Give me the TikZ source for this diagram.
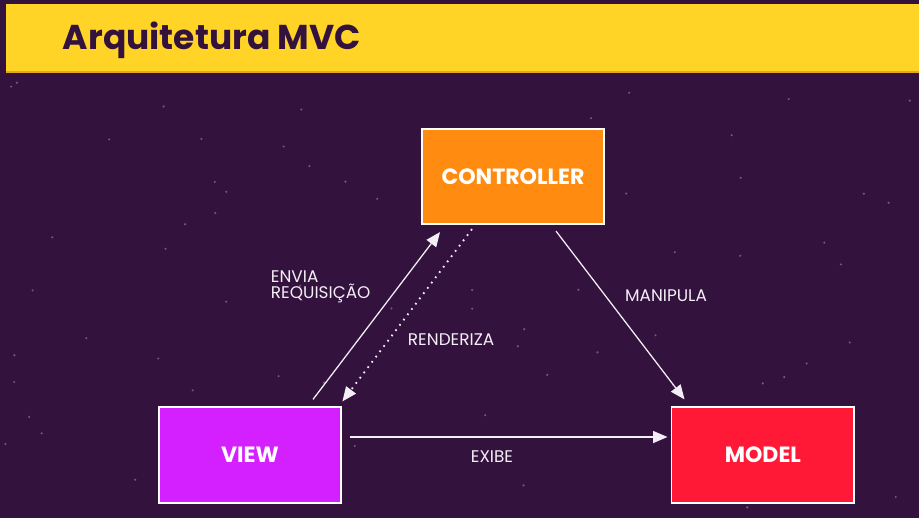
\documentclass[tikz,border=0pt]{standalone}
\usepackage{fontspec}
\setmainfont{Poppins}
\usepackage{tikz}
\usetikzlibrary{arrows.meta, positioning, calc}
\definecolor{night}{HTML}{33123D}
\definecolor{banner}{HTML}{FFD426}
\definecolor{bannerline}{HTML}{E8A81E}
\definecolor{ctrlfill}{HTML}{FF8C10}
\definecolor{viewfill}{HTML}{D420FF}
\definecolor{modelfill}{HTML}{FF1937}
\definecolor{inkwhite}{HTML}{F4EEF6}

\begin{document}
\begin{tikzpicture}[
  x=0.025cm, y=-0.025cm,
  part/.style={draw=white, line width=1.4pt, minimum width=4.57cm,
               minimum height=2.38cm, font=\fontsize{15.7}{18}\selectfont\bfseries,
               text=white, inner sep=0pt},
  link/.style={draw=inkwhite, line width=0.9pt,
               -{Triangle[length=0.36cm, width=0.3cm]}},
  tag/.style={font=\fontsize{12}{14}\selectfont, text=inkwhite, align=left},
]
  % Background and title banner
  \fill[night] (0,0) rectangle (919,518);
  \useasboundingbox (0,0) rectangle (919,518);
  \pgfmathsetseed{11}
  \foreach \i in {1,...,70} {
    \fill[white, opacity=0.3] (rnd*919, 80+rnd*438) circle (0.03cm);
  }
  \fill[banner] (6,4) rectangle (919,72);
  \draw[bannerline, line width=0.8pt] (6,72) -- (919,72);
  \node[anchor=west, font=\fontsize{24.5}{30}\selectfont\bfseries, text=night]
    (title) at (58,40) {Arquitetura MVC};

  % Components
  \node[part, fill=ctrlfill] (controller) at (513,176.5) {CONTROLLER};
  \node[part, fill=viewfill] (view) at (250,455) {VIEW};
  \node[part, fill=modelfill, right=8.2cm of view] (model) {MODEL};

  % Connectors
  \draw[link] ($(view.north)+(63,-7)$) -- ($(controller.south)+(-73,7)$);
  \draw[link, dash pattern=on 1.2pt off 3.5pt, line width=1.3pt]
    ($(controller.south)+(-41,4)$) -- ($(view.north east)+(0,-5)$);
  \draw[link] ($(controller.south)+(43,6)$) -- ($(model.north west)+(14,-7)$);
  \draw[link] ($(view.east)+(8,-18)$) -- ($(model.west)+(-3,-18)$);

  % Labels
  \node[tag, anchor=west] (envia) at (266,287) {ENVIA\\[-3pt]REQUISIÇÃO};
  \node[tag, anchor=west] (renderiza) at (403,340) {RENDERIZA};
  \node[tag] (manipula) at (666,296) {MANIPULA};
  \node[tag] (exibe) at (492,457) {EXIBE};
\end{tikzpicture}
\end{document}
